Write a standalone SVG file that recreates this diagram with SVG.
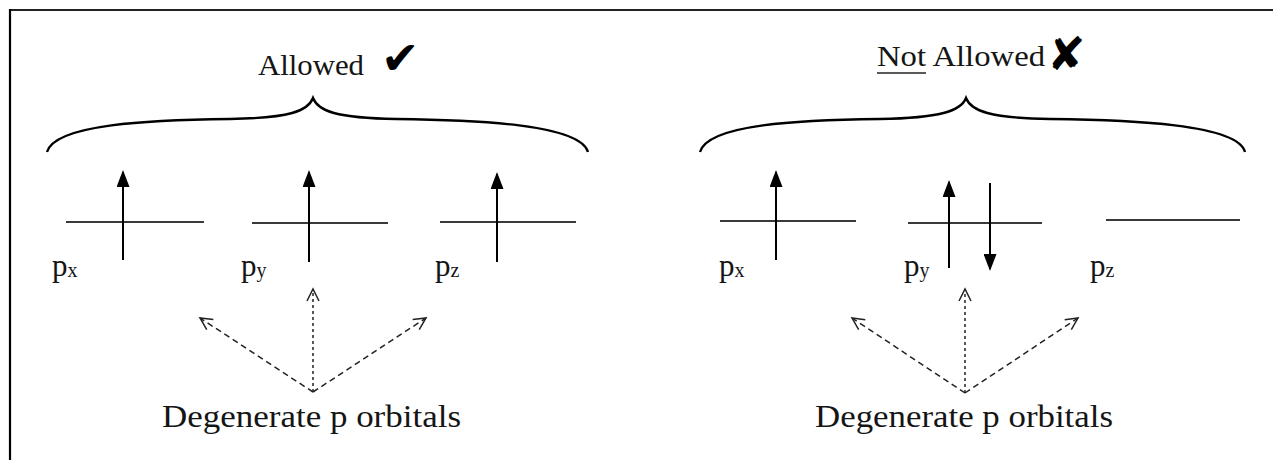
<svg xmlns="http://www.w3.org/2000/svg" width="1273" height="460" viewBox="0 0 1273 460">
<defs>
<style>
.t{font-family:"Liberation Serif","Times New Roman",serif;fill:#151515}
.lvl{stroke:#3a3a3a;stroke-width:2.2;fill:none}
.e{stroke:#000;stroke-width:2;fill:none}
.br{stroke:#000;stroke-width:2.4;fill:none}
.d{stroke:#222;stroke-width:1.5;fill:none;stroke-dasharray:6 4}
.dv{stroke:#222;stroke-width:1.5;fill:none;stroke-dasharray:3 3}
.sym{font-family:"DejaVu Sans",sans-serif;fill:#000}
</style>
<marker id="ah" markerWidth="17" markerHeight="13" refX="15" refY="6.5" orient="auto" markerUnits="userSpaceOnUse" viewBox="0 0 17 13">
<path d="M0,0 L17,6.5 L0,13 Z" fill="#000"/>
</marker>
<marker id="ov" markerWidth="16" markerHeight="16" refX="14" refY="8" orient="auto" markerUnits="userSpaceOnUse" viewBox="0 0 16 16">
<path d="M2,2 L14,8 L2,14" fill="none" stroke="#222" stroke-width="1.5"/>
</marker>
</defs>
<rect width="1273" height="460" fill="#fff"/>
<g id="frame">
<line x1="10" y1="10" x2="1273" y2="10" stroke="#222" stroke-width="2"/>
<line x1="10" y1="9" x2="10" y2="460" stroke="#000" stroke-width="2.2"/>
</g>

<g id="allowed-title">
<text class="t" x="258" y="75" font-size="30" textLength="106" lengthAdjust="spacingAndGlyphs">Allowed</text>
<text class="sym" x="381" y="74" font-size="46">✔</text>
</g>
<g id="allowed-brace"><path class="br" d="M47,152 C55,124 150,120 230,119 C290,118 308,111 313,98 C318,111 336,118 396,119 C476,120 580,124 588,152"/></g>

<g id="allowed-px">
<line class="lvl" x1="66" y1="222" x2="204" y2="222"/>
<line class="e" x1="123" y1="260" x2="123" y2="172" marker-end="url(#ah)"/>
<text class="t" x="52" y="276" font-size="31">p<tspan font-size="20" dy="1">x</tspan></text>
</g>
<g id="allowed-py">
<line class="lvl" x1="252" y1="223" x2="388" y2="223"/>
<line class="e" x1="309" y1="262" x2="309" y2="172" marker-end="url(#ah)"/>
<text class="t" x="241" y="276" font-size="31">p<tspan font-size="20" dy="1">y</tspan></text>
</g>
<g id="allowed-pz">
<line class="lvl" x1="440" y1="222" x2="576" y2="222"/>
<line class="e" x1="497" y1="262" x2="497" y2="174" marker-end="url(#ah)"/>
<text class="t" x="435" y="276" font-size="31">p<tspan font-size="20" dy="1">z</tspan></text>
</g>

<g id="notallowed-title">
<text class="t" x="877" y="66" font-size="30" textLength="168" lengthAdjust="spacingAndGlyphs">Not Allowed</text>
<line x1="877" y1="73" x2="926" y2="73" stroke="#222" stroke-width="1.6"/>
<text class="sym" x="1047" y="70" font-size="46" font-style="italic">✘</text>
</g>
<g id="notallowed-brace"><path class="br" d="M700,152 C708,124 800,120 880,119 C940,118 961,111 966,98 C971,111 990,118 1050,119 C1130,120 1238,124 1245,152"/></g>

<g id="notallowed-px">
<line class="lvl" x1="720" y1="221" x2="856" y2="221"/>
<line class="e" x1="776" y1="260" x2="776" y2="172" marker-end="url(#ah)"/>
<text class="t" x="719" y="276" font-size="31">p<tspan font-size="20" dy="1">x</tspan></text>
</g>
<g id="notallowed-py">
<line class="lvl" x1="908" y1="223" x2="1042" y2="223"/>
<line class="e" x1="949" y1="268" x2="949" y2="182" marker-end="url(#ah)"/>
<line class="e" x1="990" y1="183" x2="990" y2="269" marker-end="url(#ah)"/>
<text class="t" x="904" y="276" font-size="31">p<tspan font-size="20" dy="1">y</tspan></text>
</g>
<g id="notallowed-pz">
<line class="lvl" x1="1106" y1="220" x2="1240" y2="220"/>
<text class="t" x="1090" y="276" font-size="31">p<tspan font-size="20" dy="1">z</tspan></text>
</g>

<g id="allowed-degenerate">
<text class="t" x="162" y="427" font-size="32" textLength="299" lengthAdjust="spacingAndGlyphs">Degenerate p orbitals</text>
</g>
<g id="notallowed-degenerate">
<text class="t" x="815" y="427" font-size="32" textLength="298" lengthAdjust="spacingAndGlyphs">Degenerate p orbitals</text>
</g>

<g id="connectors">
<line class="d" x1="313" y1="392" x2="200" y2="318" marker-end="url(#ov)"/>
<line class="dv" x1="313" y1="392" x2="313" y2="289" marker-end="url(#ov)"/>
<line class="d" x1="313" y1="392" x2="426" y2="318" marker-end="url(#ov)"/>
<line class="d" x1="965" y1="393" x2="852" y2="318" marker-end="url(#ov)"/>
<line class="dv" x1="965" y1="393" x2="965" y2="289" marker-end="url(#ov)"/>
<line class="d" x1="965" y1="393" x2="1078" y2="318" marker-end="url(#ov)"/>
</g>
</svg>
